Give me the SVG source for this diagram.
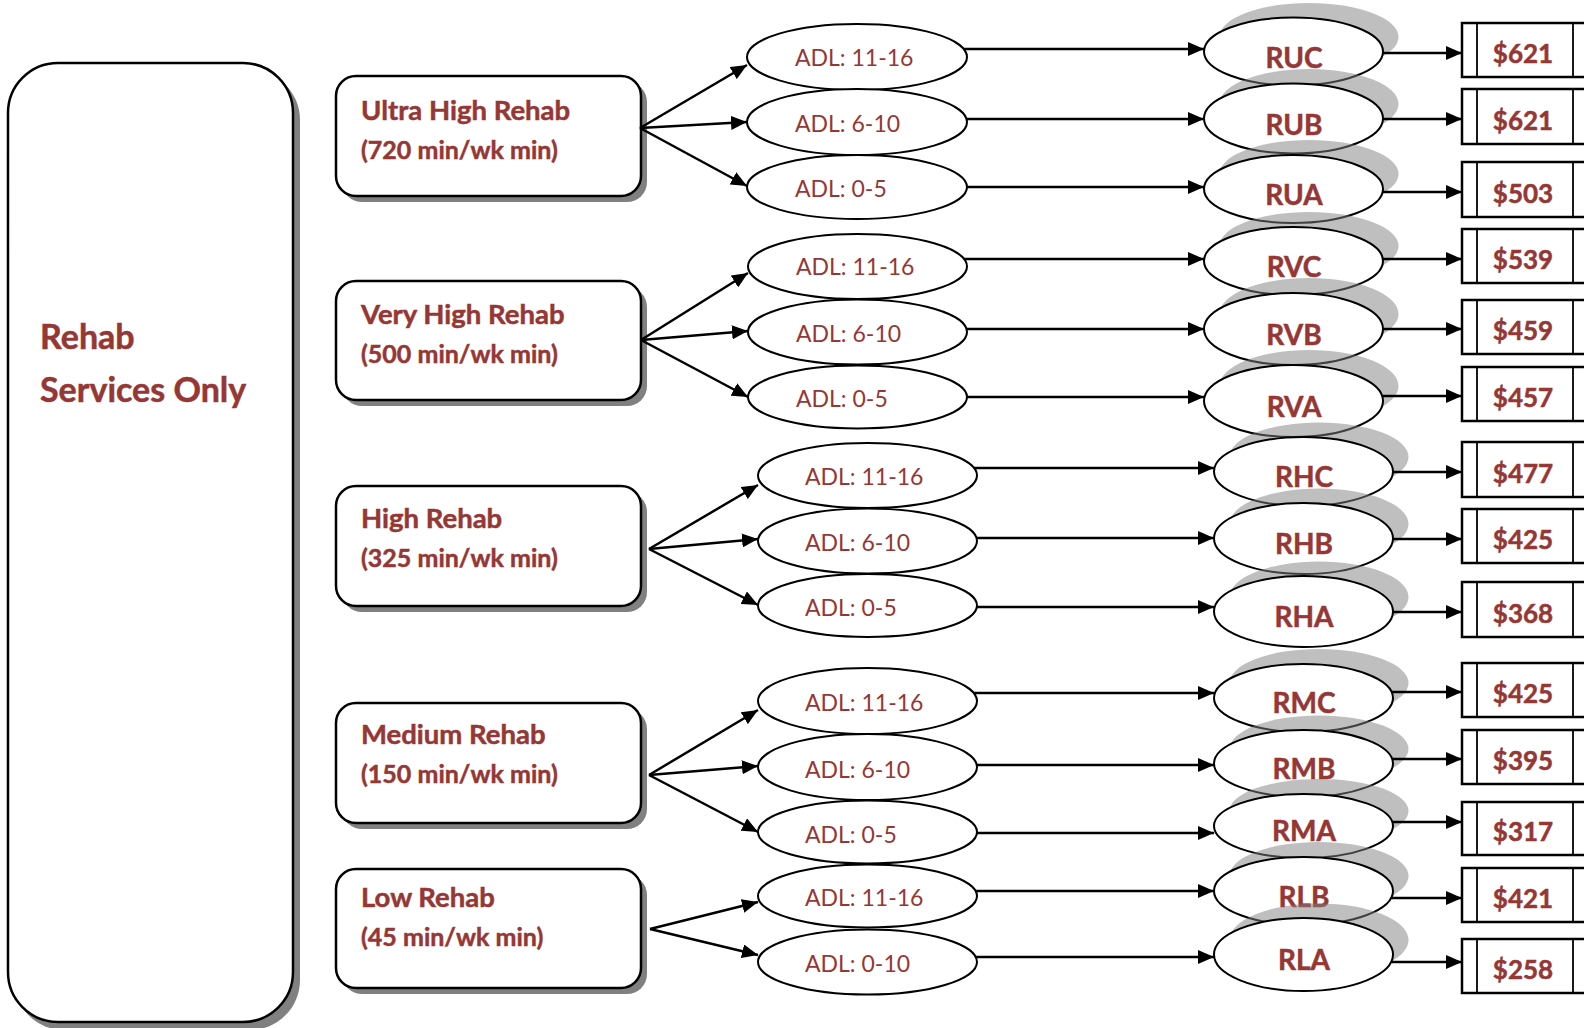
<svg xmlns="http://www.w3.org/2000/svg" width="1584" height="1028" viewBox="0 0 1584 1028">
<defs>
<style>
.bg{fill:#fff}
.rbox{fill:#fff;stroke:#000;stroke-width:2.5}
.rsh{fill:#808080}
.t{font-family:Lato,"Open Sans","Liberation Sans",sans-serif;fill:#953735}
.b{font-weight:bold;stroke:#953735;stroke-width:0.5}
.big{font-size:34px}
.bt1{font-size:27.5px}
.bt2{font-size:25px}
.adl{fill:#fff;stroke:#000;stroke-width:2}
.at{font-size:23px}
.rug{fill:#fff;stroke:#000;stroke-width:2}
.esh{fill:#808080;fill-opacity:0.5}
.rt{font-size:28px;text-anchor:middle}
.pb{fill:#fff;stroke:#000;stroke-width:2.5}
.pl{stroke:#000;stroke-width:1.8}
.pt{font-size:26px;text-anchor:middle}
.c{fill:none;stroke:#000;stroke-width:2.5;marker-end:url(#ah)}
</style>
<marker id="ah" markerUnits="userSpaceOnUse" viewBox="0 0 16 14" refX="16" refY="7" markerWidth="16" markerHeight="14" orient="auto">
<path d="M0,0 L16,7 L0,14 z" fill="#000"/>
</marker>
</defs>
<rect class="bg" x="0" y="0" width="1584" height="1028"/>

<g id="rehab-services-only">
<rect class="rsh" x="14" y="70" width="286" height="960" rx="50"/>
<rect class="rbox" x="8" y="63" width="285" height="959" rx="50"/>
<text class="t b big" x="40" y="349">Rehab</text>
<text class="t b big" x="40" y="402">Services Only</text>
</g>

<g id="ultra-high">
<rect class="rsh" x="342" y="82" width="305" height="120" rx="20"/>
<rect class="rbox" x="336" y="76" width="305" height="120" rx="20"/>
<text class="t b bt1" x="361" y="120">Ultra High Rehab</text>
<text class="t b bt2" x="361" y="159">(720 min/wk min)</text>
</g>
<g id="very-high">
<rect class="rsh" x="342" y="287" width="305" height="119" rx="20"/>
<rect class="rbox" x="336" y="281" width="305" height="119" rx="20"/>
<text class="t b bt1" x="361" y="324">Very High Rehab</text>
<text class="t b bt2" x="361" y="363">(500 min/wk min)</text>
</g>
<g id="high">
<rect class="rsh" x="342" y="492" width="305" height="120" rx="20"/>
<rect class="rbox" x="336" y="486" width="305" height="120" rx="20"/>
<text class="t b bt1" x="361" y="528">High Rehab</text>
<text class="t b bt2" x="361" y="567">(325 min/wk min)</text>
</g>
<g id="medium">
<rect class="rsh" x="342" y="709" width="305" height="120" rx="20"/>
<rect class="rbox" x="336" y="703" width="305" height="120" rx="20"/>
<text class="t b bt1" x="361" y="744">Medium Rehab</text>
<text class="t b bt2" x="361" y="783">(150 min/wk min)</text>
</g>
<g id="low">
<rect class="rsh" x="342" y="875" width="305" height="119" rx="20"/>
<rect class="rbox" x="336" y="869" width="305" height="119" rx="20"/>
<text class="t b bt1" x="361" y="907">Low Rehab</text>
<text class="t b bt2" x="361" y="946">(45 min/wk min)</text>
</g>

<g id="adl-u1"><ellipse class="adl" cx="857" cy="57" rx="110" ry="33"/><text class="t at" x="795" y="66">ADL: 11-16</text></g>
<g id="adl-u2"><ellipse class="adl" cx="857" cy="122" rx="110" ry="33"/><text class="t at" x="795" y="132">ADL: 6-10</text></g>
<g id="adl-u3"><ellipse class="adl" cx="857" cy="187" rx="110" ry="32"/><text class="t at" x="795" y="197">ADL: 0-5</text></g>
<g id="adl-v1"><ellipse class="adl" cx="857.5" cy="266.5" rx="109.5" ry="32.5"/><text class="t at" x="796" y="275">ADL: 11-16</text></g>
<g id="adl-v2"><ellipse class="adl" cx="857.5" cy="332" rx="109.5" ry="32.5"/><text class="t at" x="796" y="342">ADL: 6-10</text></g>
<g id="adl-v3"><ellipse class="adl" cx="857.5" cy="397" rx="109.5" ry="31.5"/><text class="t at" x="796" y="407">ADL: 0-5</text></g>
<g id="adl-h1"><ellipse class="adl" cx="867.5" cy="475.5" rx="109.5" ry="32.5"/><text class="t at" x="805" y="485">ADL: 11-16</text></g>
<g id="adl-h2"><ellipse class="adl" cx="867.5" cy="541" rx="109.5" ry="32.5"/><text class="t at" x="805" y="551">ADL: 6-10</text></g>
<g id="adl-h3"><ellipse class="adl" cx="867.5" cy="605.5" rx="109.5" ry="31.5"/><text class="t at" x="805" y="616">ADL: 0-5</text></g>
<g id="adl-m1"><ellipse class="adl" cx="867.5" cy="701" rx="109.5" ry="33"/><text class="t at" x="805" y="711">ADL: 11-16</text></g>
<g id="adl-m2"><ellipse class="adl" cx="867.5" cy="767" rx="109.5" ry="33"/><text class="t at" x="805" y="778">ADL: 6-10</text></g>
<g id="adl-m3"><ellipse class="adl" cx="867.5" cy="832" rx="109.5" ry="31.5"/><text class="t at" x="805" y="843">ADL: 0-5</text></g>
<g id="adl-l1"><ellipse class="adl" cx="867.5" cy="896" rx="109.5" ry="31.5"/><text class="t at" x="805" y="906">ADL: 11-16</text></g>
<g id="adl-l2"><ellipse class="adl" cx="867.5" cy="962" rx="109.5" ry="32.5"/><text class="t at" x="805" y="972">ADL: 0-10</text></g>

<g id="RUC"><ellipse class="esh" cx="1309" cy="37" rx="89.5" ry="34"/><ellipse class="rug" cx="1293.5" cy="51.5" rx="89.5" ry="34"/><text class="t b rt" x="1294" y="68">RUC</text></g>
<g id="RUB"><ellipse class="esh" cx="1309" cy="104" rx="89.5" ry="35"/><ellipse class="rug" cx="1293.5" cy="118.5" rx="89.5" ry="35"/><text class="t b rt" x="1294" y="135">RUB</text></g>
<g id="RUA"><ellipse class="esh" cx="1309" cy="174" rx="89.5" ry="34"/><ellipse class="rug" cx="1293.5" cy="189" rx="89.5" ry="34"/><text class="t b rt" x="1294" y="205">RUA</text></g>
<g id="RVC"><ellipse class="esh" cx="1309" cy="246" rx="89.5" ry="34"/><ellipse class="rug" cx="1293.5" cy="261" rx="89.5" ry="34"/><text class="t b rt" x="1294" y="277">RVC</text></g>
<g id="RVB"><ellipse class="esh" cx="1309" cy="314" rx="89.5" ry="36"/><ellipse class="rug" cx="1293.5" cy="329" rx="89.5" ry="36"/><text class="t b rt" x="1294" y="345">RVB</text></g>
<g id="RVA"><ellipse class="esh" cx="1309" cy="386" rx="89.5" ry="36"/><ellipse class="rug" cx="1293.5" cy="401" rx="89.5" ry="36"/><text class="t b rt" x="1294" y="417">RVA</text></g>
<g id="RHC"><ellipse class="esh" cx="1319" cy="457" rx="89.5" ry="34.5"/><ellipse class="rug" cx="1303.5" cy="471.5" rx="89.5" ry="34.5"/><text class="t b rt" x="1304" y="487">RHC</text></g>
<g id="RHB"><ellipse class="esh" cx="1319" cy="524" rx="89.5" ry="35.5"/><ellipse class="rug" cx="1303.5" cy="538.5" rx="89.5" ry="35.5"/><text class="t b rt" x="1304" y="554">RHB</text></g>
<g id="RHA"><ellipse class="esh" cx="1319" cy="597" rx="89.5" ry="35.5"/><ellipse class="rug" cx="1303.5" cy="611.5" rx="89.5" ry="35.5"/><text class="t b rt" x="1304" y="627">RHA</text></g>
<g id="RMC"><ellipse class="esh" cx="1319" cy="683" rx="89.5" ry="34"/><ellipse class="rug" cx="1303.5" cy="698" rx="89.5" ry="34"/><text class="t b rt" x="1304" y="713">RMC</text></g>
<g id="RMB"><ellipse class="esh" cx="1319" cy="749" rx="89.5" ry="33.5"/><ellipse class="rug" cx="1303.5" cy="763.5" rx="89.5" ry="33.5"/><text class="t b rt" x="1304" y="779">RMB</text></g>
<g id="RMA"><ellipse class="esh" cx="1319" cy="811" rx="89.5" ry="32"/><ellipse class="rug" cx="1303.5" cy="826" rx="89.5" ry="32"/><text class="t b rt" x="1304" y="841">RMA</text></g>
<g id="RLB"><ellipse class="esh" cx="1319" cy="876" rx="89.5" ry="34"/><ellipse class="rug" cx="1303.5" cy="891" rx="89.5" ry="34"/><text class="t b rt" x="1304" y="907">RLB</text></g>
<g id="RLA"><ellipse class="esh" cx="1319" cy="940" rx="89.5" ry="36.5"/><ellipse class="rug" cx="1303.5" cy="954.5" rx="89.5" ry="36.5"/><text class="t b rt" x="1304" y="970">RLA</text></g>

<g id="p-RUC"><rect class="pb" x="1462" y="23" width="140" height="54"/><line class="pl" x1="1477" y1="23" x2="1477" y2="77"/><line class="pl" x1="1573" y1="23" x2="1573" y2="77"/><text class="t b pt" x="1523" y="63">$621</text></g>
<g id="p-RUB"><rect class="pb" x="1462" y="89" width="140" height="55"/><line class="pl" x1="1477" y1="89" x2="1477" y2="144"/><line class="pl" x1="1573" y1="89" x2="1573" y2="144"/><text class="t b pt" x="1523" y="130">$621</text></g>
<g id="p-RUA"><rect class="pb" x="1462" y="162" width="140" height="55"/><line class="pl" x1="1477" y1="162" x2="1477" y2="217"/><line class="pl" x1="1573" y1="162" x2="1573" y2="217"/><text class="t b pt" x="1523" y="203">$503</text></g>
<g id="p-RVC"><rect class="pb" x="1462" y="229" width="140" height="54"/><line class="pl" x1="1477" y1="229" x2="1477" y2="283"/><line class="pl" x1="1573" y1="229" x2="1573" y2="283"/><text class="t b pt" x="1523" y="269">$539</text></g>
<g id="p-RVB"><rect class="pb" x="1462" y="300" width="140" height="54"/><line class="pl" x1="1477" y1="300" x2="1477" y2="354"/><line class="pl" x1="1573" y1="300" x2="1573" y2="354"/><text class="t b pt" x="1523" y="340">$459</text></g>
<g id="p-RVA"><rect class="pb" x="1462" y="367" width="140" height="54"/><line class="pl" x1="1477" y1="367" x2="1477" y2="421"/><line class="pl" x1="1573" y1="367" x2="1573" y2="421"/><text class="t b pt" x="1523" y="407">$457</text></g>
<g id="p-RHC"><rect class="pb" x="1462" y="442" width="140" height="55"/><line class="pl" x1="1477" y1="442" x2="1477" y2="497"/><line class="pl" x1="1573" y1="442" x2="1573" y2="497"/><text class="t b pt" x="1523" y="483">$477</text></g>
<g id="p-RHB"><rect class="pb" x="1462" y="509" width="140" height="54"/><line class="pl" x1="1477" y1="509" x2="1477" y2="563"/><line class="pl" x1="1573" y1="509" x2="1573" y2="563"/><text class="t b pt" x="1523" y="549">$425</text></g>
<g id="p-RHA"><rect class="pb" x="1462" y="582" width="140" height="55"/><line class="pl" x1="1477" y1="582" x2="1477" y2="637"/><line class="pl" x1="1573" y1="582" x2="1573" y2="637"/><text class="t b pt" x="1523" y="623">$368</text></g>
<g id="p-RMC"><rect class="pb" x="1462" y="663" width="140" height="54"/><line class="pl" x1="1477" y1="663" x2="1477" y2="717"/><line class="pl" x1="1573" y1="663" x2="1573" y2="717"/><text class="t b pt" x="1523" y="703">$425</text></g>
<g id="p-RMB"><rect class="pb" x="1462" y="730" width="140" height="54"/><line class="pl" x1="1477" y1="730" x2="1477" y2="784"/><line class="pl" x1="1573" y1="730" x2="1573" y2="784"/><text class="t b pt" x="1523" y="770">$395</text></g>
<g id="p-RMA"><rect class="pb" x="1462" y="802" width="140" height="53"/><line class="pl" x1="1477" y1="802" x2="1477" y2="855"/><line class="pl" x1="1573" y1="802" x2="1573" y2="855"/><text class="t b pt" x="1523" y="841">$317</text></g>
<g id="p-RLB"><rect class="pb" x="1462" y="868" width="140" height="54"/><line class="pl" x1="1477" y1="868" x2="1477" y2="922"/><line class="pl" x1="1573" y1="868" x2="1573" y2="922"/><text class="t b pt" x="1523" y="908">$421</text></g>
<g id="p-RLA"><rect class="pb" x="1462" y="939" width="140" height="54"/><line class="pl" x1="1477" y1="939" x2="1477" y2="993"/><line class="pl" x1="1573" y1="939" x2="1573" y2="993"/><text class="t b pt" x="1523" y="979">$258</text></g>

<g id="connectors">
<path class="c" d="M640,128 L747,65"/>
<path class="c" d="M640,128 L747,122"/>
<path class="c" d="M640,128 L747,186"/>
<path class="c" d="M641,340 L748,273"/>
<path class="c" d="M641,340 L748,331"/>
<path class="c" d="M641,340 L748,397"/>
<path class="c" d="M649,549 L758,485"/>
<path class="c" d="M649,549 L758,539"/>
<path class="c" d="M649,549 L758,605"/>
<path class="c" d="M649,775 L758,710"/>
<path class="c" d="M649,775 L758,766"/>
<path class="c" d="M649,775 L758,832"/>
<path class="c" d="M650,929 L758,902"/>
<path class="c" d="M650,929 L758,955"/>

<path class="c" d="M963,49 L1204,49"/>
<path class="c" d="M967,119 L1204,119"/>
<path class="c" d="M967,187 L1204,187"/>
<path class="c" d="M964,259 L1204,259"/>
<path class="c" d="M967,329 L1204,329"/>
<path class="c" d="M967,397 L1204,397"/>
<path class="c" d="M974,468 L1214,468"/>
<path class="c" d="M977,538 L1214,538"/>
<path class="c" d="M977,607 L1214,607"/>
<path class="c" d="M974,693 L1214,693"/>
<path class="c" d="M977,765 L1214,765"/>
<path class="c" d="M977,833 L1214,833"/>
<path class="c" d="M976,891 L1214,891"/>
<path class="c" d="M976,957 L1214,957"/>

<path class="c" d="M1382,53 L1462,53"/>
<path class="c" d="M1383,119 L1462,119"/>
<path class="c" d="M1382,192 L1462,192"/>
<path class="c" d="M1383,259 L1462,259"/>
<path class="c" d="M1383,329 L1462,329"/>
<path class="c" d="M1383,396 L1462,396"/>
<path class="c" d="M1393,472 L1462,472"/>
<path class="c" d="M1393,539 L1462,539"/>
<path class="c" d="M1393,612 L1462,612"/>
<path class="c" d="M1392,692 L1462,692"/>
<path class="c" d="M1393,759 L1462,759"/>
<path class="c" d="M1392,822 L1462,822"/>
<path class="c" d="M1392,898 L1462,898"/>
<path class="c" d="M1392,962 L1462,962"/>
</g>
</svg>
